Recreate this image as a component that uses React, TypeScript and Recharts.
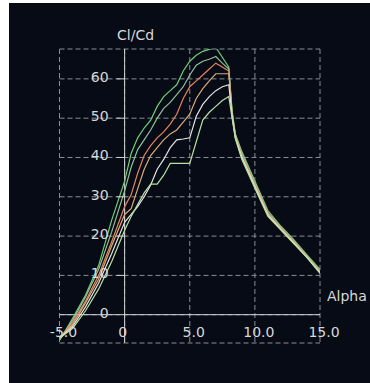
import React from 'react';
import { LineChart, Line, XAxis, YAxis, CartesianGrid, ReferenceLine, ReferenceDot } from 'recharts';

const alpha = [-5, -4, -3, -2, -1, 0, 0.5, 1, 1.5, 2, 2.5, 3, 3.5, 4, 4.5, 5, 5.5, 6, 6.5, 7, 7.5, 8, 8.25, 8.5, 9, 10, 11, 12, 13, 14, 15];

const seriesA = [-6.5, -1, 5, 12.5, 24, 34, 41, 45, 47.5, 49.5, 53, 55.5, 57, 58.5, 62, 64.5, 66, 67, 67.5, 68, 65.5, 63, 52, 46, 41.5, 34, 26.5, 22.5, 19, 15.2, 11.5];
const seriesB = [-6.5, -1.5, 4.5, 11.5, 21, 31.5, 37.5, 42, 44.5, 47, 50, 52.5, 54, 56, 58, 61, 63.5, 64.5, 65, 65.7, 64, 62.5, 51.5, 45.8, 41, 33.6, 26, 22.3, 18.8, 15, 11.2];
const seriesC = [-6, -2, 3.5, 10, 18.5, 27.5, 30.5, 36, 40.5, 43, 45, 46.5, 48.5, 51, 55, 58, 59.5, 61, 62.5, 64, 63, 62, 51, 45.5, 40.5, 33.2, 25.8, 22, 18.5, 14.8, 11];
const seriesD = [-6, -2.5, 3, 9, 17.5, 25.5, 27, 32, 37, 40.5, 42.5, 44.5, 46, 47, 49, 51, 55, 57.5, 59.5, 61.3, 61.3, 61.3, 51, 45.3, 40.3, 33, 25.6, 21.9, 18.4, 14.7, 10.9];
const seriesE = [-6, -3, 2, 8, 15.5, 23.5, 25.5, 27.5, 30, 33, 37, 39.5, 42.5, 44.5, 44.7, 45, 50.5, 53.5, 55.5, 57, 58, 58.5, 50.5, 45, 40, 32.6, 25.3, 21.7, 18.2, 14.6, 10.7];
const seriesF = [-6, -3.5, 1, 6.5, 13.5, 21.5, 25, 28, 31, 33.2, 33.2, 35.5, 38.5, 38.5, 38.5, 38.5, 44, 49.5, 51.5, 53, 54.5, 55.5, 50, 44.8, 39.5, 32.2, 25, 21.5, 18, 14.5, 10.5];

const xTicks = [-5, 0, 5, 10, 15];
const xTickLabels = ['-5.0', '0', '5.0', '10.0', '15.0'];
const yTicks = [0, 10, 20, 30, 40, 50, 60];
const yTickLabels = ['0', '10', '20', '30', '40', '50', '60'];

const data = alpha.map((a, i) => ({
  alpha: a,
  A: seriesA[i],
  B: seriesB[i],
  C: seriesC[i],
  D: seriesD[i],
  E: seriesE[i],
  F: seriesF[i],
}));

const FONT = '"DejaVu Sans", Verdana, sans-serif';
const TEXT = '#d8d8d8';
const AXIS = '#d0d0d0';

const lines = [
  { key: 'A', color: '#6fcf78' },
  { key: 'B', color: '#93bf98' },
  { key: 'C', color: '#e8845a' },
  { key: 'D', color: '#d9aa7a' },
  { key: 'E', color: '#e4e4e4' },
  { key: 'F', color: '#b8e0a4' },
];

export default function App() {
  return (
    <div style={{ position: 'absolute', left: 9, top: 3, width: 361, height: 380, background: '#060b15' }}>
      <LineChart
        width={361}
        height={380}
        data={data}
        margin={{ top: 46, right: 50, bottom: 40, left: 50.5 }}
      >
        <XAxis dataKey="alpha" type="number" domain={[-5, 15]} ticks={xTicks} hide allowDataOverflow />
        <YAxis type="number" domain={[-7.2, 67.6]} ticks={yTicks} hide allowDataOverflow />
        <CartesianGrid stroke="#8a8e96" strokeDasharray="5 3" strokeWidth={1} />
        <ReferenceLine
          x={0}
          stroke={AXIS}
          strokeWidth={1}
          label={{ value: 'Cl/Cd', position: 'top', offset: 9, dx: 11, fill: TEXT, fontSize: 14, fontFamily: FONT }}
        />
        <ReferenceLine
          y={0}
          stroke={AXIS}
          strokeWidth={1}
          label={{ value: 'Alpha', position: 'right', offset: 7, dy: -19, fill: TEXT, fontSize: 14, fontFamily: FONT }}
        />
        {lines.map((l) => (
          <Line
            key={l.key}
            dataKey={l.key}
            stroke={l.color}
            strokeWidth={1.2}
            dot={false}
            type="linear"
            isAnimationActive={false}
          />
        ))}
        {xTicks.map((t, i) => (
          <ReferenceDot
            key={'x' + t}
            x={t}
            y={0}
            r={0}
            isFront
            shape={(p: any) => (
              <text
                x={p.cx + (xTickLabels[i].length > 1 ? 4 : -2)}
                y={p.cy + 22}
                textAnchor="middle"
                fill={TEXT}
                fontSize={14}
                fontFamily={FONT}
              >
                {xTickLabels[i]}
              </text>
            )}
          />
        ))}
        {yTicks.map((t, i) => (
          <ReferenceDot
            key={'y' + t}
            x={0}
            y={t}
            r={0}
            isFront
            shape={(p: any) => (
              <g>
                {t !== 0 && <line x1={p.cx - 8} y1={p.cy} x2={p.cx} y2={p.cy} stroke={AXIS} strokeWidth={1} />}
                <text
                  x={p.cx - 16}
                  y={p.cy + 3}
                  textAnchor="end"
                  fill={TEXT}
                  fontSize={14}
                  fontFamily={FONT}
                >
                  {yTickLabels[i]}
                </text>
              </g>
            )}
          />
        ))}
      </LineChart>
    </div>
  );
}
